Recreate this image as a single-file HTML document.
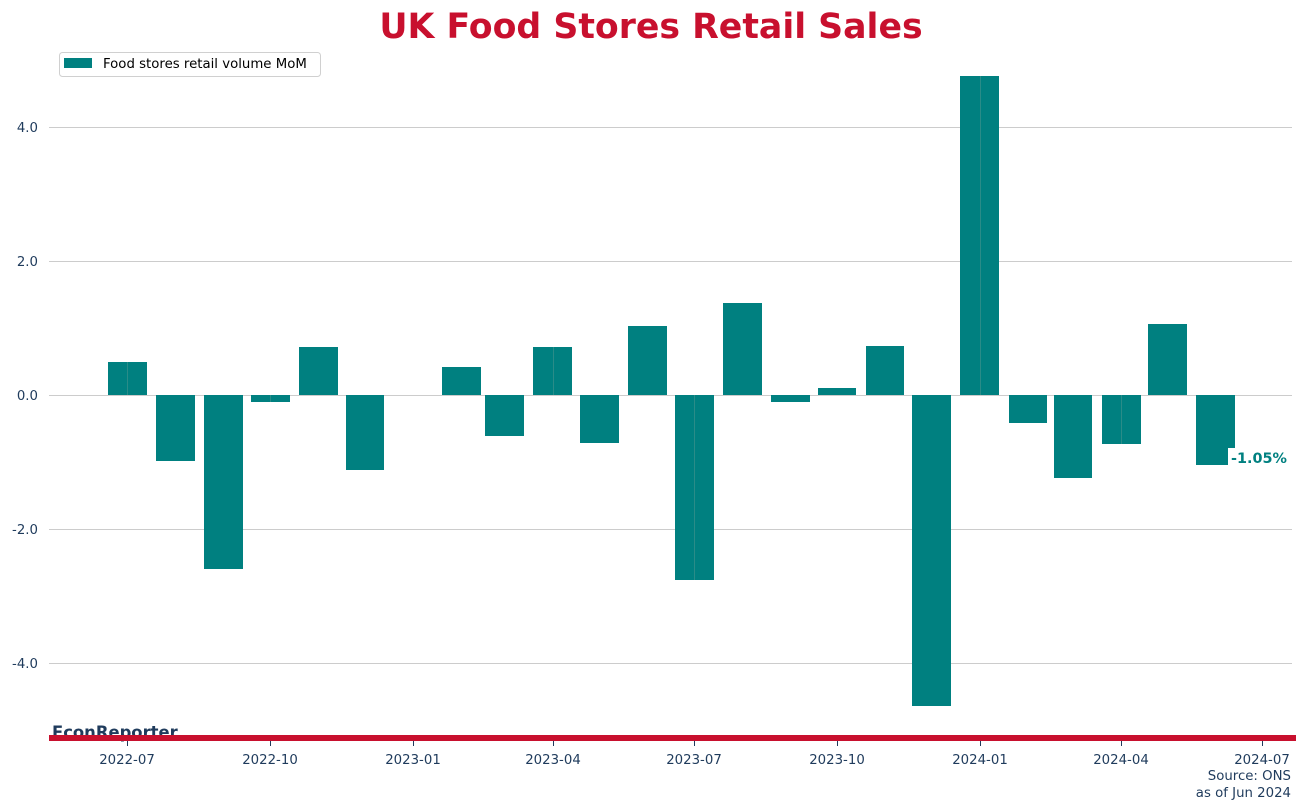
<!DOCTYPE html>
<html><head><meta charset="utf-8"><style>
html,body{margin:0;padding:0;background:#fff;}
svg{display:block;font-family:"DejaVu Sans","Liberation Sans",sans-serif;}
</style></head><body>
<svg width="1301" height="810" viewBox="0 0 1301 810" xmlns="http://www.w3.org/2000/svg">
<text x="651" y="38" text-anchor="middle" font-size="34.7" font-weight="bold" fill="#c8102e">UK Food Stores Retail Sales</text>
<g stroke="#cccccc" stroke-width="1">
<line x1="49" x2="1292" y1="127.5" y2="127.5"/>
<line x1="49" x2="1292" y1="261.5" y2="261.5"/>
<line x1="49" x2="1292" y1="395.5" y2="395.5"/>
<line x1="49" x2="1292" y1="529.5" y2="529.5"/>
<line x1="49" x2="1292" y1="663.5" y2="663.5"/>
</g>
<g font-size="13.3" fill="#1f3b5c" text-anchor="end">
<text x="38" y="132">4.0</text>
<text x="38" y="266">2.0</text>
<text x="38" y="400">0.0</text>
<text x="38" y="534">-2.0</text>
<text x="38" y="668">-4.0</text>
</g>
<g fill="#008080">
<rect x="108" y="362" width="39" height="33"/>
<rect x="156" y="395" width="39" height="66"/>
<rect x="204" y="395" width="39" height="174"/>
<rect x="251" y="395" width="39" height="7"/>
<rect x="299" y="347" width="39" height="48"/>
<rect x="346" y="395" width="38" height="75"/>
<rect x="442" y="367" width="39" height="28"/>
<rect x="485" y="395" width="39" height="41"/>
<rect x="533" y="347" width="39" height="48"/>
<rect x="580" y="395" width="39" height="48"/>
<rect x="628" y="326" width="39" height="69"/>
<rect x="675" y="395" width="39" height="185"/>
<rect x="723" y="303" width="39" height="92"/>
<rect x="771" y="395" width="39" height="7"/>
<rect x="818" y="388" width="38" height="7"/>
<rect x="866" y="346" width="38" height="49"/>
<rect x="912" y="395" width="39" height="311"/>
<rect x="960" y="76" width="39" height="319"/>
<rect x="1009" y="395" width="38" height="28"/>
<rect x="1054" y="395" width="38" height="83"/>
<rect x="1102" y="395" width="39" height="49"/>
<rect x="1148" y="324" width="39" height="71"/>
<rect x="1196" y="395" width="39" height="70"/>
</g>
<g stroke="#2a8c88" stroke-width="1">
<line x1="127.5" x2="127.5" y1="362" y2="395"/>
<line x1="270.5" x2="270.5" y1="395" y2="402"/>
<line x1="553.5" x2="553.5" y1="347" y2="395"/>
<line x1="694.5" x2="694.5" y1="395" y2="580"/>
<line x1="980.5" x2="980.5" y1="76" y2="395"/>
<line x1="1121.5" x2="1121.5" y1="395" y2="444"/>
</g>
<rect x="1228" y="448" width="64" height="19" fill="#fff"/>
<text x="1231" y="463" font-size="14.4" font-weight="bold" fill="#008080">-1.05%</text>
<rect x="59.5" y="52.5" width="261" height="24" rx="3" fill="#fff" stroke="#d0d0d0"/>
<rect x="64" y="58" width="28" height="10" fill="#008080"/>
<text x="103" y="68" font-size="13.3" fill="#000">Food stores retail volume MoM</text>
<text x="52" y="738" font-size="16.4" font-weight="bold" fill="#1f3b5c">EconReporter</text>
<rect x="49" y="735" width="1247" height="6" fill="#c8102e"/>
<g stroke="#1f3b5c" stroke-width="1">
<line x1="127.5" x2="127.5" y1="741" y2="746"/>
<line x1="270.5" x2="270.5" y1="741" y2="746"/>
<line x1="413.5" x2="413.5" y1="741" y2="746"/>
<line x1="553.5" x2="553.5" y1="741" y2="746"/>
<line x1="694.5" x2="694.5" y1="741" y2="746"/>
<line x1="837.5" x2="837.5" y1="741" y2="746"/>
<line x1="980.5" x2="980.5" y1="741" y2="746"/>
<line x1="1121.5" x2="1121.5" y1="741" y2="746"/>
<line x1="1262.5" x2="1262.5" y1="741" y2="746"/>
</g>
<g font-size="13.3" fill="#1f3b5c" text-anchor="middle">
<text x="127" y="764">2022-07</text>
<text x="270" y="764">2022-10</text>
<text x="413" y="764">2023-01</text>
<text x="553" y="764">2023-04</text>
<text x="694" y="764">2023-07</text>
<text x="837" y="764">2023-10</text>
<text x="980" y="764">2024-01</text>
<text x="1121" y="764">2024-04</text>
<text x="1262" y="764">2024-07</text>
</g>
<g font-size="13.3" fill="#1f3b5c" text-anchor="end">
<text x="1291" y="780">Source: ONS</text>
<text x="1291" y="797">as of Jun 2024</text>
</g>
</svg>
</body></html>
